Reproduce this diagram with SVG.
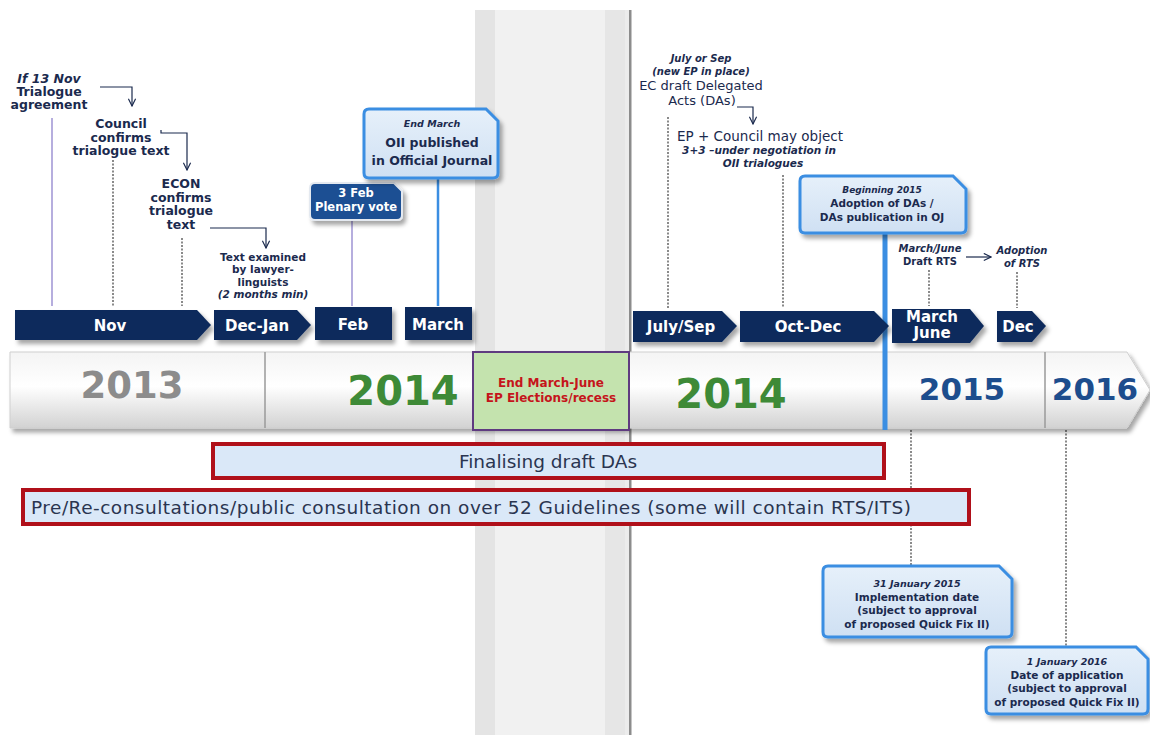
<svg xmlns="http://www.w3.org/2000/svg" width="1150" height="735" viewBox="0 0 1150 735">
<defs>
<style>
.lbl{font-family:"DejaVu Sans",Verdana,sans-serif;font-weight:bold;fill:#1b2a4e;text-anchor:middle}
.it{font-style:italic}
.reg{font-weight:normal}
.mon{font-family:"DejaVu Sans",Verdana,sans-serif;font-weight:bold;fill:#ffffff;text-anchor:middle;font-size:15px}
.navy{fill:#0c2b5c}
.yr{font-family:"DejaVu Sans",Verdana,sans-serif;font-weight:bold;text-anchor:middle}
.call{fill:url(#cg);stroke:#3b8ee2;stroke-width:3}
.dot{stroke:#8a8a8a;stroke-width:2;stroke-dasharray:2,1.5;fill:none}
.arr{stroke:#1b2a4e;stroke-width:1.2;fill:none}
.bar{fill:#dae8f8;stroke:#b0101a;stroke-width:4}
.bt{font-family:"DejaVu Sans",Verdana,sans-serif;font-size:18.5px;fill:#2a3550;text-anchor:middle}
</style>
<linearGradient id="yg" x1="0" y1="0" x2="0" y2="1">
<stop offset="0" stop-color="#f4f4f4"/>
<stop offset="0.45" stop-color="#ffffff"/>
<stop offset="1" stop-color="#d2d2d2"/>
</linearGradient>
<linearGradient id="cg" x1="0" y1="0" x2="0" y2="1">
<stop offset="0" stop-color="#e6f0fa"/>
<stop offset="1" stop-color="#cfe0f3"/>
</linearGradient>
<filter id="sh" x="-10%" y="-20%" width="125%" height="150%">
<feDropShadow dx="3" dy="4" stdDeviation="2" flood-color="#000" flood-opacity="0.35"/>
</filter>
<marker id="ah" viewBox="0 0 10 10" refX="9" refY="5" markerWidth="9" markerHeight="9" markerUnits="userSpaceOnUse" orient="auto">
<path d="M1,1 L9,5 L1,9" fill="none" stroke="#1b2a4e" stroke-width="1.3"/>
</marker>
</defs>
<rect width="1150" height="735" fill="#ffffff"/>

<g id="recess-band">
<rect x="475" y="10" width="155" height="725" fill="#ececec"/>
<rect x="475" y="10" width="20" height="725" fill="#e4e4e4"/>
<rect x="605" y="10" width="20" height="725" fill="#e6e6e6"/>
<rect x="495" y="10" width="110" height="725" fill="#f1f1f1"/>
<rect x="629" y="10" width="2.5" height="725" fill="#8c8c8c"/>
</g>

<g id="connectors">
<line x1="52" y1="118" x2="52" y2="306" stroke="#b6aede" stroke-width="2"/>
<line x1="113" y1="160" x2="113" y2="306" class="dot"/>
<line x1="182" y1="238" x2="182" y2="306" class="dot"/>
<line x1="352" y1="220" x2="352" y2="306" stroke="#b6aede" stroke-width="2"/>
<line x1="438" y1="178" x2="438" y2="306" stroke="#3b8ee2" stroke-width="2.5"/>
<line x1="668" y1="117" x2="668" y2="308" class="dot"/>
<line x1="783" y1="175" x2="783" y2="308" class="dot"/>
<line x1="929" y1="270" x2="929" y2="306" class="dot"/>
<line x1="1017" y1="272" x2="1017" y2="308" class="dot"/>
<line x1="911" y1="430" x2="911" y2="566" class="dot"/>
<line x1="1066" y1="430" x2="1066" y2="647" class="dot"/>
<polyline points="100,87 132,87 132,106" class="arr" marker-end="url(#ah)"/>
<polyline points="161,130 161,133 187,133 187,170" class="arr" marker-end="url(#ah)"/>
<polyline points="210,228 266,228 266,248" class="arr" marker-end="url(#ah)"/>
<polyline points="737,107 753,107 753,124" class="arr" marker-end="url(#ah)"/>
<line x1="966" y1="257" x2="991" y2="257" class="arr" marker-end="url(#ah)"/>
</g>

<g id="year-bar">
<path d="M10,352 H1127 L1150,390 L1127,428 H10 Z" fill="url(#yg)" stroke="#cfcfcf" stroke-width="1" filter="url(#sh)"/>
<line x1="265" y1="352" x2="265" y2="428" stroke="#9a9a9a" stroke-width="1.5"/>
<line x1="1045" y1="352" x2="1045" y2="428" stroke="#9a9a9a" stroke-width="1.5"/>
<text x="132" y="398" class="yr" font-size="37" fill="#8c8c8c">2013</text>
<text x="403" y="405" class="yr" font-size="40" fill="#3e8a37">2014</text>
<text x="731" y="408" class="yr" font-size="40" fill="#3e8a37">2014</text>
<text x="962" y="400" class="yr" font-size="31" fill="#1d4d8d">2015</text>
<text x="1095" y="400" class="yr" font-size="31" fill="#1d4d8d">2016</text>
</g>

<g id="elections">
<rect x="473" y="352" width="156" height="78" fill="#c4e3ae" stroke="#5f3b80" stroke-width="2"/>
<text x="551" y="387" font-family="DejaVu Sans,Verdana,sans-serif" font-weight="bold" font-size="12" fill="#c5141b" text-anchor="middle">End March-June</text>
<text x="551" y="402" font-family="DejaVu Sans,Verdana,sans-serif" font-weight="bold" font-size="12" fill="#c5141b" text-anchor="middle">EP Elections/recess</text>
</g>

<line x1="885" y1="232" x2="885" y2="430" stroke="#3b8ee2" stroke-width="5"/>

<g id="m-nov"><path d="M15,310 H197 L211,325 L197,340 H15 Z" class="navy" filter="url(#sh)"/><text x="110" y="331" class="mon">Nov</text></g>
<g id="m-decjan"><path d="M214,310 H297 L311,325 L297,340 H214 Z" class="navy" filter="url(#sh)"/><text x="257" y="331" class="mon">Dec-Jan</text></g>
<g id="m-feb"><rect x="315" y="307" width="77" height="33" class="navy" filter="url(#sh)"/><text x="353" y="330" class="mon">Feb</text></g>
<g id="m-march"><rect x="405" y="307" width="67" height="33" class="navy" filter="url(#sh)"/><text x="438" y="330" class="mon">March</text></g>
<g id="m-julsep"><path d="M633,311 H722 L737,326 L722,342 H633 Z" class="navy" filter="url(#sh)"/><text x="681" y="332" class="mon">July/Sep</text></g>
<g id="m-octdec"><path d="M740,311 H874 L889,326 L874,342 H740 Z" class="navy" filter="url(#sh)"/><text x="808" y="332" class="mon">Oct-Dec</text></g>
<g id="m-marjun"><path d="M892,309 H970 L984,326 L970,343 H892 Z" class="navy" filter="url(#sh)"/><text x="932" y="322" class="mon" font-size="12">March</text><text x="932" y="338" class="mon" font-size="12">June</text></g>
<g id="m-dec"><path d="M997,311 H1032 L1046,326 L1032,342 H997 Z" class="navy" filter="url(#sh)"/><text x="1018" y="332" class="mon">Dec</text></g>

<g id="n-trialogue">
<text x="49" y="83" class="lbl it" font-size="12.5">If 13 Nov</text>
<text x="49" y="96" class="lbl" font-size="12.5">Trialogue</text>
<text x="49" y="109" class="lbl" font-size="12.5">agreement</text>
</g>
<g id="n-council">
<text x="121" y="128" class="lbl" font-size="12.5">Council</text>
<text x="121" y="142" class="lbl" font-size="12.5">confirms</text>
<text x="121" y="155" class="lbl" font-size="12.5">trialogue text</text>
</g>
<g id="n-econ">
<text x="181" y="188" class="lbl" font-size="12.5">ECON</text>
<text x="181" y="202" class="lbl" font-size="12.5">confirms</text>
<text x="181" y="215" class="lbl" font-size="12.5">trialogue</text>
<text x="181" y="229" class="lbl" font-size="12.5">text</text>
</g>
<g id="n-lawyer">
<text x="263" y="261" class="lbl" font-size="10.5">Text examined</text>
<text x="263" y="273" class="lbl" font-size="10.5">by lawyer-</text>
<text x="263" y="286" class="lbl" font-size="10.5">linguists</text>
<text x="263" y="298" class="lbl it" font-size="10.5">(2 months min)</text>
</g>

<g id="n-plenary">
<path d="M315,183 H394 L402,191 V215 Q402,220 397,220 H315 Q310,220 310,215 V188 Q310,183 315,183 Z" fill="#1c4f93" stroke="#e4e9f0" stroke-width="2" filter="url(#sh)"/>
<text x="356" y="197" class="lbl" font-size="11.5" style="fill:#ffffff">3 Feb</text>
<text x="356" y="211" class="lbl" font-size="11.5" style="fill:#ffffff">Plenary vote</text>
</g>

<g id="n-oii">
<path d="M369,109 H486 L498,121 V173 Q498,178 493,178 H369 Q364,178 364,173 V114 Q364,109 369,109 Z" class="call" filter="url(#sh)"/>
<text x="432" y="127" class="lbl it" font-size="9.5">End March</text>
<text x="432" y="147" class="lbl" font-size="12.5">OII published</text>
<text x="432" y="165" class="lbl" font-size="12.5">in Official Journal</text>
</g>

<g id="n-ecdraft">
<text x="701" y="62" class="lbl it" font-size="10">July or Sep</text>
<text x="701" y="75" class="lbl it" font-size="10">(new EP in place)</text>
<text x="701" y="90" class="lbl reg" font-size="13">EC draft Delegated</text>
<text x="702" y="105" class="lbl reg" font-size="13">Acts (DAs)</text>
</g>
<g id="n-object">
<text x="760" y="141" class="lbl reg" font-size="13.5">EP + Council may object</text>
<text x="759" y="154" class="lbl it" font-size="10.5">3+3  –under negotiation in</text>
<text x="763" y="167" class="lbl it" font-size="10.5">OII trialogues</text>
</g>

<g id="n-adoption-das">
<path d="M805,176 H953 L966,189 V228 Q966,233 961,233 H805 Q800,233 800,228 V181 Q800,176 805,176 Z" class="call" filter="url(#sh)"/>
<text x="882" y="193" class="lbl it" font-size="9">Beginning 2015</text>
<text x="882" y="207" class="lbl" font-size="10.5">Adoption of DAs /</text>
<text x="882" y="221" class="lbl" font-size="10.5">DAs publication in OJ</text>
</g>

<g id="n-draft-rts">
<text x="930" y="252" class="lbl it" font-size="10">March/June</text>
<text x="930" y="265" class="lbl" font-size="10">Draft RTS</text>
</g>
<g id="n-adoption-rts">
<text x="1022" y="254" class="lbl it" font-size="10">Adoption</text>
<text x="1022" y="267" class="lbl it" font-size="10">of RTS</text>
</g>

<g id="n-finalising">
<rect x="213" y="444" width="671" height="34" class="bar"/>
<text x="548" y="468" class="bt">Finalising draft DAs</text>
</g>
<g id="n-guidelines">
<rect x="23" y="490" width="946" height="34" class="bar"/>
<text x="471" y="514" class="bt" textLength="880" lengthAdjust="spacing">Pre/Re-consultations/public consultation on over 52 Guidelines (some will contain RTS/ITS)</text>
</g>

<g id="n-implementation">
<path d="M828,566 H999 L1012,579 V632 Q1012,637 1007,637 H828 Q823,637 823,632 V571 Q823,566 828,566 Z" class="call" filter="url(#sh)"/>
<text x="917" y="587" class="lbl it" font-size="9.5">31 January 2015</text>
<text x="917" y="601" class="lbl" font-size="10.5">Implementation date</text>
<text x="917" y="614" class="lbl" font-size="10.5">(subject to approval</text>
<text x="917" y="628" class="lbl" font-size="10.5">of proposed Quick Fix II)</text>
</g>
<g id="n-application">
<path d="M991,647 H1136 L1148,659 V709 Q1148,714 1143,714 H991 Q986,714 986,709 V652 Q986,647 991,647 Z" class="call" filter="url(#sh)"/>
<text x="1067" y="665" class="lbl it" font-size="9.5">1 January 2016</text>
<text x="1067" y="679" class="lbl" font-size="10.5">Date of application</text>
<text x="1067" y="692" class="lbl" font-size="10.5">(subject to approval</text>
<text x="1067" y="706" class="lbl" font-size="10.5">of proposed Quick Fix II)</text>
</g>
</svg>
